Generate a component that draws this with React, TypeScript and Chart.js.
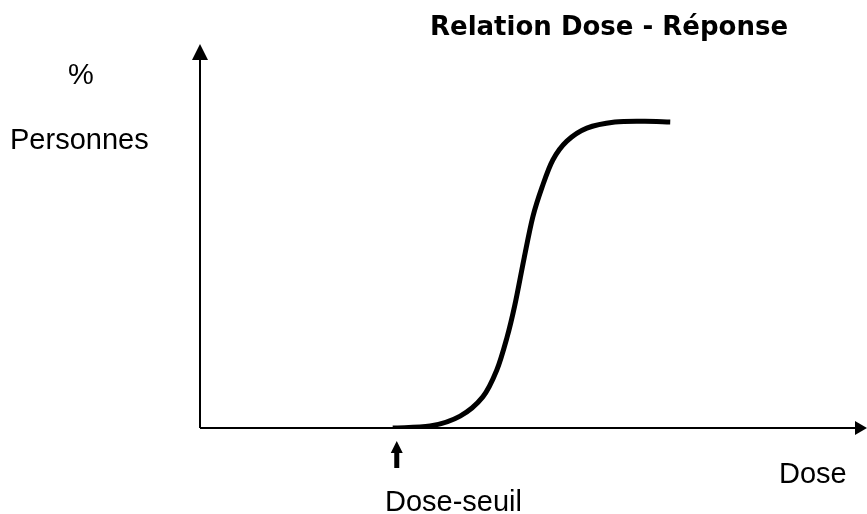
import React, { useEffect, useRef } from "react";
import { Chart, registerables } from "chart.js";

Chart.register(...registerables);

// Dose (arbitrary units, 0-100) and response (% of persons, 0-100)
const doseValues = [28.9, 34.5, 39.0, 42.4, 44.5, 46.0, 47.2, 48.6, 49.9, 51.3, 52.9, 55.0, 58.0, 62.2, 66.7, 70.5];
const responseValues = [0, 0.5, 3.1, 8.1, 15.1, 23.4, 32.0, 44.3, 55.0, 62.8, 69.8, 74.7, 78.1, 79.7, 79.9, 79.7];
const thresholdDose = 28.9;

const titleText = "Relation Dose - Réponse";
const yLabelTop = "%";
const yLabelBottom = "Personnes";
const xLabel = "Dose";
const thresholdLabel = "Dose-seuil";

const axesPlugin = {
  id: "axesPlugin",
  afterDraw(chart: any) {
    const ctx = chart.ctx;
    const xs = chart.scales.x;
    const ys = chart.scales.y;
    const x0 = xs.getPixelForValue(0);
    const y0 = ys.getPixelForValue(0);
    const xEnd = xs.getPixelForValue(100);
    const yTop = ys.getPixelForValue(100);
    ctx.save();
    ctx.strokeStyle = "#000";
    ctx.fillStyle = "#000";
    ctx.lineWidth = 2;
    // y axis
    ctx.beginPath();
    ctx.moveTo(x0, y0);
    ctx.lineTo(x0, yTop + 14);
    ctx.stroke();
    ctx.beginPath();
    ctx.moveTo(x0, yTop);
    ctx.lineTo(x0 - 8, yTop + 16);
    ctx.lineTo(x0 + 8, yTop + 16);
    ctx.closePath();
    ctx.fill();
    // x axis
    ctx.beginPath();
    ctx.moveTo(x0, y0);
    ctx.lineTo(xEnd - 10, y0);
    ctx.stroke();
    ctx.beginPath();
    ctx.moveTo(xEnd, y0);
    ctx.lineTo(xEnd - 12, y0 - 7);
    ctx.lineTo(xEnd - 12, y0 + 7);
    ctx.closePath();
    ctx.fill();
    // threshold arrow
    const tx = xs.getPixelForValue(thresholdDose) + 4;
    ctx.fillRect(tx - 2.5, y0 + 22, 5, 18);
    ctx.beginPath();
    ctx.moveTo(tx, y0 + 13);
    ctx.lineTo(tx - 6, y0 + 25);
    ctx.lineTo(tx + 6, y0 + 25);
    ctx.closePath();
    ctx.fill();
    // texts
    ctx.textBaseline = "alphabetic";
    ctx.textAlign = "left";
    ctx.font = "bold 26px 'DejaVu Sans'";
    ctx.fillText(titleText, 430, 35);
    ctx.font = "29px 'Liberation Sans'";
    ctx.fillText(yLabelTop, 68, 84);
    ctx.fillText(yLabelBottom, 10, 149);
    ctx.fillText(xLabel, 779, 483);
    ctx.fillText(thresholdLabel, 385, 511);
    ctx.restore();
  },
};

export default function App() {
  const ref = useRef<HTMLCanvasElement | null>(null);
  useEffect(() => {
    document.body.style.margin = "0";
    const chart = new Chart(ref.current as HTMLCanvasElement, {
      type: "line",
      data: {
        datasets: [
          {
            data: doseValues.map((d, i) => ({ x: d, y: responseValues[i] })),
            borderColor: "#000",
            borderWidth: 5,
            pointRadius: 0,
            tension: 0.3,
            borderCapStyle: "butt",
            borderJoinStyle: "round",
          },
        ],
      },
      options: {
        responsive: false,
        animation: false,
        layout: { padding: { left: 200, right: 0, top: 44, bottom: 86 } },
        plugins: { legend: { display: false }, tooltip: { enabled: false }, title: { display: false } },
        scales: {
          x: { type: "linear", min: 0, max: 100, display: false },
          y: { type: "linear", min: 0, max: 100, display: false },
        },
      },
      plugins: [axesPlugin],
    });
    return () => chart.destroy();
  }, []);
  return (
    <div style={{ position: "fixed", left: 0, top: 0, width: 867, height: 514, background: "#fff" }}>
      <canvas ref={ref} width={867} height={514} />
    </div>
  );
}
